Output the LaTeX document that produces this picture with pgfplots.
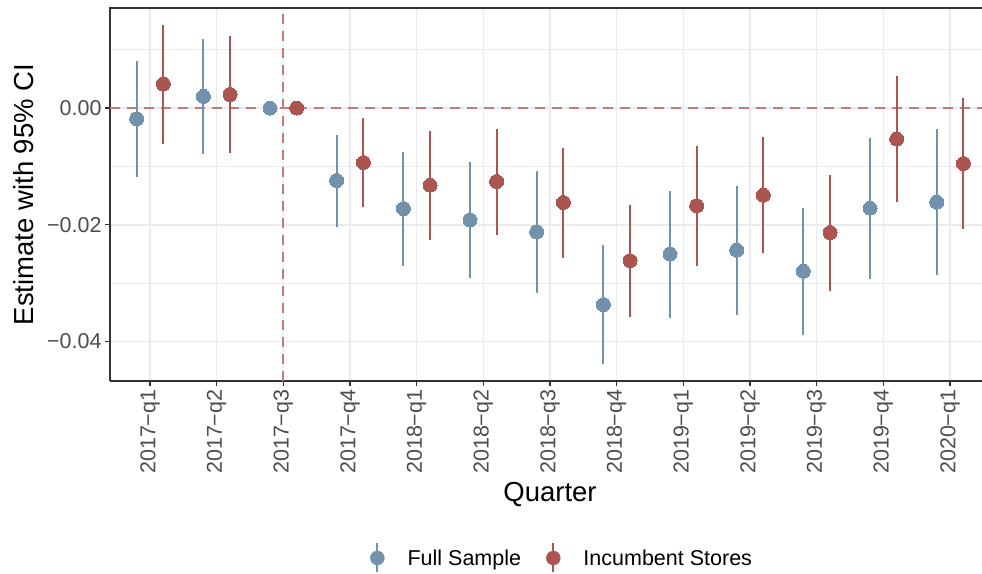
\documentclass[border=0pt]{standalone}
\usepackage{pgfplots}
\pgfplotsset{compat=1.18}
\usepackage{pgfplotstable}
\usepackage{fontspec}
\setmainfont{Liberation Sans}
\definecolor{cblue}{RGB}{114,145,173}
\definecolor{cred}{RGB}{172,84,80}
\definecolor{cdash}{RGB}{196,122,118}
\definecolor{grey92}{HTML}{EBEBEB}
\definecolor{grey20}{HTML}{333333}
\definecolor{grey30}{HTML}{4D4D4D}

\pgfplotstableread{
x y lo hi
0 -0.00183 -0.01173 0.00799
1 0.00199 -0.00789 0.01183
2 0 0 0
3 -0.01241 -0.02030 -0.00458
4 -0.01721 -0.02704 -0.00744
5 -0.01915 -0.02914 -0.00926
6 -0.02121 -0.03172 -0.01070
7 -0.03367 -0.04389 -0.02349
8 -0.02498 -0.03590 -0.01413
9 -0.02434 -0.03549 -0.01327
10 -0.02794 -0.03887 -0.01704
11 -0.01714 -0.02921 -0.00514
12 -0.01612 -0.02863 -0.00360
}\fullsample

\pgfplotstableread{
x y lo hi
0 0.00411 -0.00612 0.01428
1 0.00233 -0.00771 0.01228
2 0 0 0
3 -0.00933 -0.01697 -0.00171
4 -0.01320 -0.02253 -0.00401
5 -0.01258 -0.02172 -0.00355
6 -0.01618 -0.02561 -0.00681
7 -0.02613 -0.03573 -0.01663
8 -0.01675 -0.02704 -0.00658
9 -0.01492 -0.02486 -0.00497
10 -0.02133 -0.03132 -0.01149
11 -0.00531 -0.01606 0.00554
12 -0.00950 -0.02064 0.00165
}\incumbent

\begin{document}
\begin{tikzpicture}
\useasboundingbox (0pt,0pt) rectangle (982pt,573pt);
\clip (0pt,0pt) rectangle (982pt,573pt);
\begin{axis}[
  at={(110pt,192pt)}, anchor=south west,
  scale only axis, width=880pt, height=373pt,
  xmin=-0.6, xmax=12.6, ymin=-0.04675, ymax=0.01714,
  axis lines*=left,
  xtick={0,...,12},
  xticklabels={2017−q1,2017−q2,2017−q3,2017−q4,2018−q1,2018−q2,2018−q3,2018−q4,2019−q1,2019−q2,2019−q3,2019−q4,2020−q1},
  ytick={-0.04,-0.02,0},
  yticklabels={−0.04,−0.02,0.00},
  minor ytick={-0.03,-0.01,0.01},
  tick align=outside,
  major tick length=5pt,
  minor tick length=0pt,
  every tick/.style={grey20, line width=1.2pt},
  xmajorgrids, ymajorgrids, yminorgrids,
  major grid style={grey92, line width=1.4pt},
  minor grid style={grey92, line width=0.8pt},
  axis line style={grey20, line width=1.4pt, -},
  tick label style={font=\fontsize{21.5}{25}\selectfont, text=grey30},
  xticklabel style={rotate=90, anchor=east},
  scaled y ticks=false,
  legend style={draw=none, fill=none, at={(0.292,-0.4745)}, anchor=west,
    font=\fontsize{21.5}{25}\selectfont, legend columns=2,
    /tikz/every odd column/.append style={column sep=21pt},
    /tikz/every even column/.append style={column sep=23pt}},
  legend cell align=left,
]
\addplot[cdash, line width=1.8pt, dash pattern=on 10pt off 7pt, forget plot] coordinates {(-0.6,0) (12.6,0)};
\addplot[cdash, line width=1.8pt, dash pattern=on 10pt off 7pt, forget plot] coordinates {(2,-0.04675) (2,0.01714)};

\addplot[cblue, only marks, mark=*, mark size=7pt, mark options={draw=cblue, fill=cblue, line width=0pt}, forget plot,
  error bars/.cd, y dir=both, y explicit, error mark=none,
  error bar style={line width=2.2pt, cblue}]
  table[x expr=\thisrow{x}-0.2, y=y, y error plus expr=\thisrow{hi}-\thisrow{y}, y error minus expr=\thisrow{y}-\thisrow{lo}] {\fullsample};
\addplot[cred, only marks, mark=*, mark size=7pt, mark options={draw=cred, fill=cred, line width=0pt}, forget plot,
  error bars/.cd, y dir=both, y explicit, error mark=none,
  error bar style={line width=2.2pt, cred}]
  table[x expr=\thisrow{x}+0.2, y=y, y error plus expr=\thisrow{hi}-\thisrow{y}, y error minus expr=\thisrow{y}-\thisrow{lo}] {\incumbent};

\addlegendimage{cblue, legend image code/.code={\draw[line width=2.2pt] (0pt,-14.5pt) -- (0pt,14.5pt); \fill (0pt,0pt) circle (7pt);}}
\addlegendentry{Full Sample}
\addlegendimage{cred, legend image code/.code={\draw[line width=2.2pt] (0pt,-14.5pt) -- (0pt,14.5pt); \fill (0pt,0pt) circle (7pt);}}
\addlegendentry{Incumbent Stores}
\end{axis}
\draw[grey20, line width=1.4pt] (109.3pt,565pt) -- (990pt,565pt);
\node[rotate=90, anchor=base, font=\fontsize{27.5}{32}\selectfont] at (33pt,378.5pt) {Estimate with 95\% CI};
\node[anchor=base, font=\fontsize{27.5}{32}\selectfont] at (550pt,71.3pt) {Quarter};
\end{tikzpicture}
\end{document}
